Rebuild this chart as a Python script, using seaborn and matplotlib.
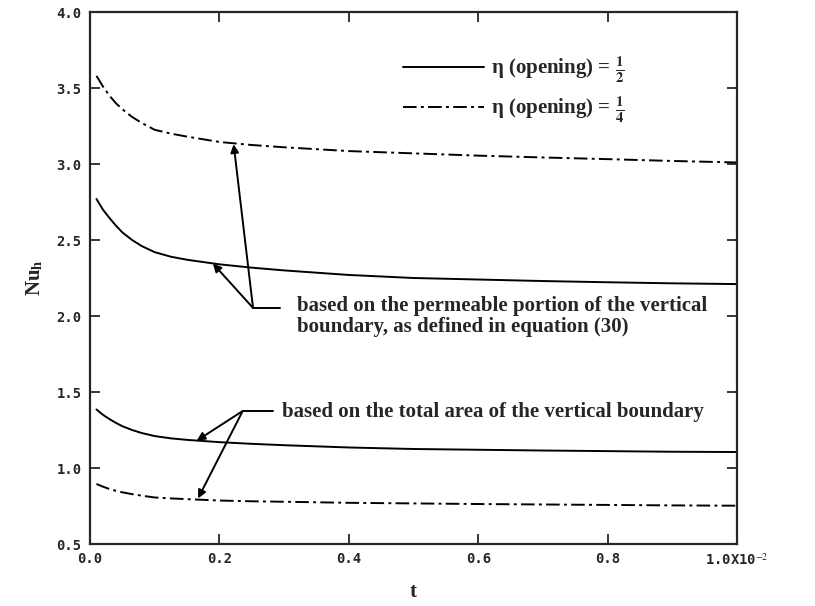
import numpy as np
import pandas as pd
import matplotlib
matplotlib.use("Agg")
import matplotlib.pyplot as plt
import seaborn as sns
from matplotlib.lines import Line2D

# ---- data (t in units of 1e-2) ----
t = [0.01, 0.02, 0.03, 0.04, 0.05, 0.065, 0.08, 0.1, 0.125, 0.15, 0.2, 0.25, 0.3,
     0.4, 0.5, 0.6, 0.7, 0.8, 0.9, 1.0]
nu_half_perm = [2.77, 2.70, 2.645, 2.595, 2.55, 2.50, 2.46, 2.42, 2.39, 2.37, 2.34,
                2.318, 2.30, 2.27, 2.25, 2.24, 2.23, 2.222, 2.215, 2.21]
nu_half_total = [1.385, 1.35, 1.322, 1.297, 1.275, 1.25, 1.23, 1.21, 1.195, 1.185, 1.17,
                 1.159, 1.15, 1.135, 1.125, 1.12, 1.115, 1.111, 1.107, 1.105]
nu_quarter_perm = [3.58, 3.51, 3.45, 3.40, 3.36, 3.31, 3.27, 3.225, 3.20, 3.18, 3.145,
                   3.125, 3.11, 3.085, 3.07, 3.055, 3.043, 3.032, 3.02, 3.01]
nu_quarter_total = [0.895, 0.877, 0.862, 0.85, 0.84, 0.828, 0.818, 0.806, 0.80, 0.795, 0.786,
                    0.781, 0.778, 0.771, 0.767, 0.763, 0.760, 0.757, 0.754, 0.752]

xticks = [0.0, 0.2, 0.4, 0.6, 0.8, 1.0]
xticklabels = ["0.0", "0.2", "0.4", "0.6", "0.8", r"1.0X10$^{-2}$"]
yticks = [0.5, 1.0, 1.5, 2.0, 2.5, 3.0, 3.5, 4.0]
yticklabels = ["0.5", "1.0", "1.5", "2.0", "2.5", "3.0", "3.5", "4.0"]

label_half = r"η (opening) = $\mathbf{\frac{1}{2}}$"
label_quarter = r"η (opening) = $\mathbf{\frac{1}{4}}$"
note_perm = ["based on the permeable portion of the vertical",
             "boundary, as defined in equation (30)"]
note_total = "based on the total area of the vertical boundary"

sns.set_style("ticks")
plt.rcParams["mathtext.fontset"] = "stix"
plt.rcParams["font.family"] = ["Liberation Serif", "DejaVu Serif"]

fig = plt.figure(figsize=(8.15, 6.06), dpi=100)
ax = fig.add_axes([90 / 815, 1 - 544 / 606, (737 - 90) / 815, (544 - 12) / 606])

df = pd.DataFrame({
    "t": t * 4,
    "Nu": nu_half_perm + nu_half_total + nu_quarter_perm + nu_quarter_total,
    "curve": ["hp"] * len(t) + ["ht"] * len(t) + ["qp"] * len(t) + ["qt"] * len(t),
})

dashdot = (0, (7, 2.2, 1.5, 2.2))
styles = {"hp": "-", "ht": "-", "qp": dashdot, "qt": dashdot}
for key, sub in df.groupby("curve", sort=False):
    sns.lineplot(data=sub, x="t", y="Nu", ax=ax, color="black", lw=1.4,
                 linestyle=styles[key], legend=False)

ax.set_xlim(0, 1.0)
ax.set_ylim(0.5, 4.0)
ax.set_xticks(xticks)
ax.set_xticklabels(xticklabels)
ax.set_yticks(yticks)
ax.set_yticklabels(yticklabels)
for lab in ax.get_xticklabels() + ax.get_yticklabels():
    lab.set_fontfamily("DejaVu Sans Mono")
    lab.set_fontweight("bold")
    lab.set_fontsize(10)
ax.tick_params(direction="in", length=7, width=1.3, top=True, right=True, pad=6)
for s in ax.spines.values():
    s.set_linewidth(1.6)

ax.set_xlabel("t", fontsize=15, fontweight="bold", labelpad=10)
ax.set_ylabel(r"Nu$_\mathbf{h}$", fontsize=15, fontweight="bold", labelpad=8)

# legend
handles = [Line2D([], [], color="black", lw=1.4, linestyle="-"),
           Line2D([], [], color="black", lw=1.4, linestyle=dashdot)]
leg = ax.legend(handles, [label_half, label_quarter], loc="upper left",
                bbox_to_anchor=(0.455, 0.955), frameon=False,
                prop=dict(family="Liberation Serif", weight="bold", size=15),
                handlelength=3.9, handletextpad=0.3, labelspacing=0.45)

txtprops = dict(family="Liberation Serif", weight="bold", size=15)
arrow = dict(arrowstyle="-|>", color="black", lw=1.4, mutation_scale=12,
             shrinkA=0, shrinkB=0)

# annotation 1
v1 = (0.252, 2.053)
ax.annotate("", xy=(0.222, 3.13), xytext=v1, arrowprops=arrow)
ax.annotate("", xy=(0.19, 2.345), xytext=v1, arrowprops=arrow)
ax.plot([v1[0], 0.294], [v1[1], v1[1]], color="black", lw=1.4)
ax.text(0.32, 2.065, note_perm[0], va="center", ha="left", **txtprops)
ax.text(0.32, 1.93, note_perm[1], va="center", ha="left", **txtprops)

# annotation 2
v2 = (0.236, 1.375)
ax.annotate("", xy=(0.165, 1.18), xytext=v2, arrowprops=arrow)
ax.annotate("", xy=(0.167, 0.80), xytext=v2, arrowprops=arrow)
ax.plot([v2[0], 0.283], [v2[1], v2[1]], color="black", lw=1.4)
ax.text(0.297, 1.37, note_total, va="center", ha="left", **txtprops)

fig.savefig("out.png", dpi=100)
